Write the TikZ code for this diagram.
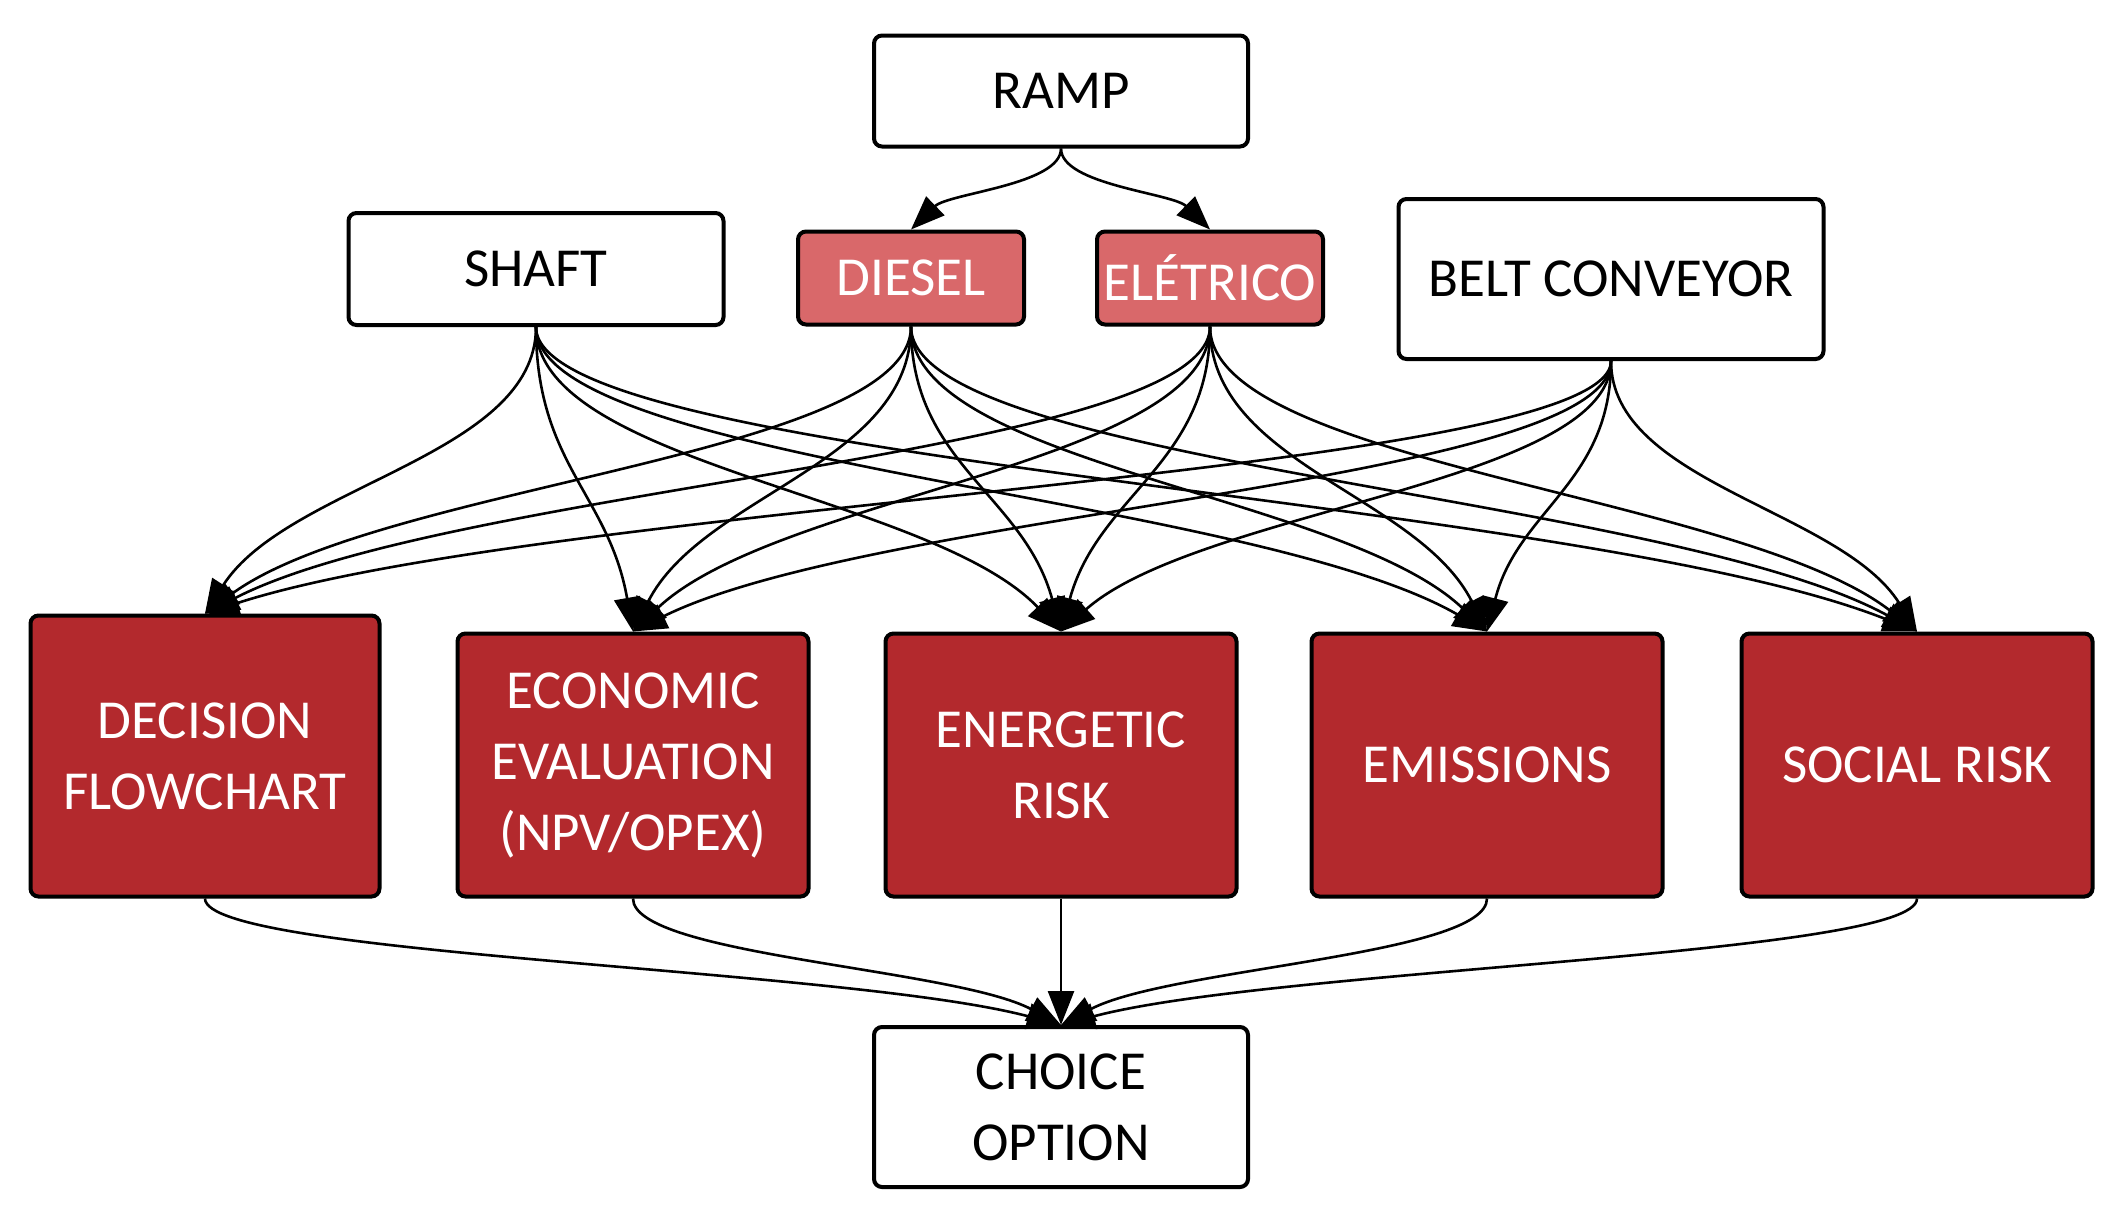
\documentclass[tikz,border=0pt]{standalone}
\usepackage{fontspec}
\setmainfont{Carlito}
\usetikzlibrary{arrows.meta,calc}
\definecolor{dred}{HTML}{B3292D}
\definecolor{lred}{HTML}{D9686A}
\tikzset{
 base/.style={draw=black, line width=2pt, rounded corners=4pt, align=center,
   font=\fontsize{27.5}{35.5}\selectfont, inner sep=0pt},
 plainbox/.style={base, fill=white, text=black},
 hotbox/.style={base, fill=lred, text=white, minimum width=113pt, minimum height=46.5pt},
 metric/.style={base, fill=dred, text=white, minimum width=175.5pt, minimum height=131.5pt},
 arr/.style={line width=1.3pt, -{Triangle[length=17pt,width=13pt]}},
}
\newcommand{\link}[2]{\draw[arr] let \p1=(#1.south), \p2=(#2.north) in (\p1) .. controls (\x1,{\y1-0.45*(\y1-\y2)}) and ({\x2+0.25*(\x1-\x2)},{\y2+0.45*(\y1-\y2)}) .. (\p2);}
\begin{document}
\begin{tikzpicture}[x=0.5pt,y=-0.5pt]
\useasboundingbox (0,0) rectangle (2124,1217);
\node[plainbox, minimum width=187pt, minimum height=55.5pt] (ramp) at (1061,91) {RAMP};
\node[plainbox, minimum width=187.5pt, minimum height=56pt] (shaft) at (536,269) {SHAFT};
\node[hotbox] (diesel) at (911,278) {DIESEL};
\node[hotbox] (eletrico) at (1210,278) {ELÉTRICO};
\node[plainbox, minimum width=212.5pt, minimum height=80pt] (belt) at (1611,279) {BELT CONVEYOR};
\node[metric, minimum width=174.5pt, minimum height=140.5pt] (dec) at (205,756) {DECISION\\FLOWCHART};
\node[metric] (eco) at (633,765) {ECONOMIC\\EVALUATION\\(NPV/OPEX)};
\node[metric] (ene) at (1061,765) {ENERGETIC\\RISK};
\node[metric] (emi) at (1487,765) {EMISSIONS};
\node[metric] (soc) at (1917,765) {SOCIAL RISK};
\node[plainbox, minimum width=187pt, minimum height=80pt] (choice) at (1061,1107) {CHOICE\\OPTION};
\link{ramp}{diesel}
\link{ramp}{eletrico}
\foreach \s in {shaft,diesel,eletrico,belt}{
  \foreach \t in {dec,eco,ene,emi,soc}{
    \link{\s}{\t}
  }
}
\foreach \t in {dec,eco,ene,emi,soc}{
  \link{\t}{choice}
}
\end{tikzpicture}
\end{document}
